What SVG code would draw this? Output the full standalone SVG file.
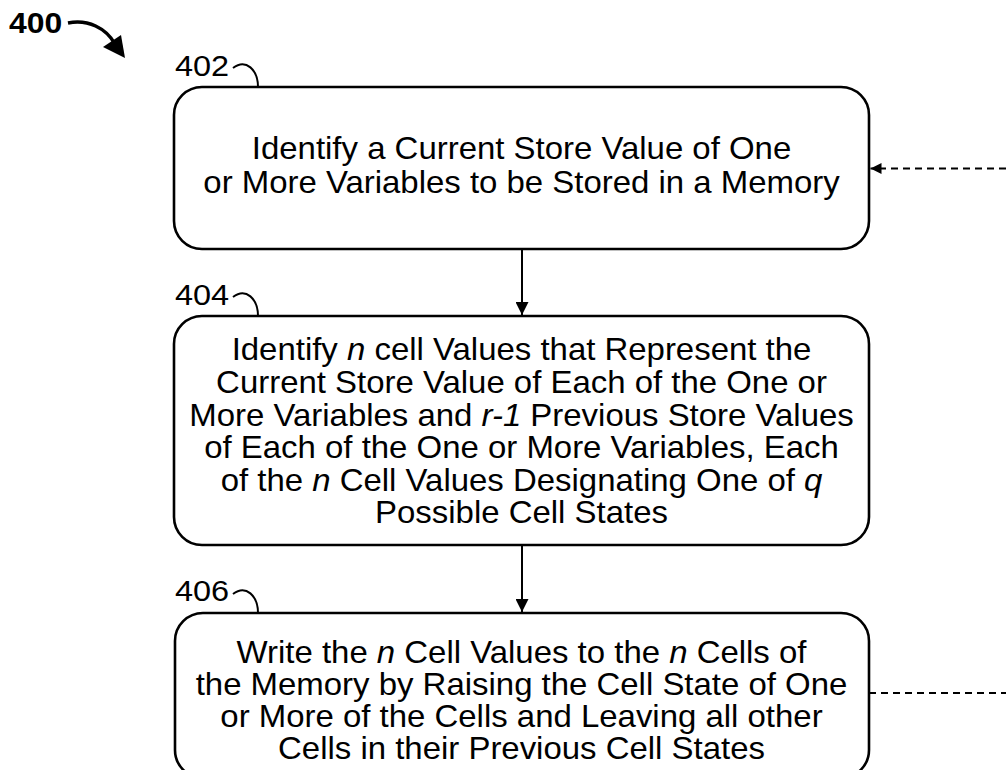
<svg xmlns="http://www.w3.org/2000/svg" width="1006" height="770" viewBox="0 0 1006 770">
<style>
.box{fill:#fff;stroke:#000;stroke-width:2.6}
.t{font-family:"Liberation Sans",Arial,sans-serif;font-size:30.5px;fill:#000;text-anchor:middle}
.lbl{font-family:"Liberation Sans",Arial,sans-serif;font-size:29.5px;fill:#000}
.curl{fill:none;stroke:#000;stroke-width:2}
.conn{fill:none;stroke:#000;stroke-width:2}
.dash{fill:none;stroke:#000;stroke-width:1.8;stroke-dasharray:7 5}
</style>
<defs>
<marker id="ah" viewBox="0 0 10 10" refX="10" refY="5" markerWidth="18" markerHeight="13" markerUnits="userSpaceOnUse" orient="auto">
<path d="M0,0 L10,5 L0,10 z" fill="#000"/>
</marker>
<marker id="ahd" viewBox="0 0 10 10" refX="10" refY="5" markerWidth="17" markerHeight="11" markerUnits="userSpaceOnUse" orient="auto">
<path d="M0,0 L10,5 L0,10 z" fill="#000"/>
</marker>
</defs>
<g id="fig-label">
<text class="lbl" font-weight="bold" transform="translate(9,33) scale(1.08,1)">400</text>
<path d="M68,23 C88,19 106,28 115,44" fill="none" stroke="#000" stroke-width="3.5"/>
<path d="M103,47 L125,58 L121,35 z" fill="#000"/>
</g>
<g id="n402">
<rect class="box" x="174" y="87" width="695" height="162" rx="28"/>
<text class="lbl" transform="translate(175,76) scale(1.1,1)">402</text>
<path class="curl" d="M233,68 C246,58 258,70 258,87"/>
<g transform="translate(521.5,0) scale(1.08,1)">
<text class="t" x="0" y="159">Identify a Current Store Value of One</text>
<text class="t" x="0" y="193">or More Variables to be Stored in a Memory</text>
</g>
</g>
<g id="n404">
<rect class="box" x="174" y="316" width="695" height="229" rx="28"/>
<text class="lbl" transform="translate(175,305) scale(1.1,1)">404</text>
<path class="curl" d="M233,297 C246,287 258,299 258,316"/>
<g transform="translate(521.5,0) scale(1.08,1)">
<text class="t" x="0" y="360">Identify <tspan font-style="italic">n</tspan> cell Values that Represent the</text>
<text class="t" x="0" y="393">Current Store Value of Each of the One or</text>
<text class="t" x="0" y="426">More Variables and <tspan font-style="italic">r-1</tspan> Previous Store Values</text>
<text class="t" x="0" y="458">of Each of the One or More Variables, Each</text>
<text class="t" x="0" y="491">of the <tspan font-style="italic">n</tspan> Cell Values Designating One of <tspan font-style="italic">q</tspan></text>
<text class="t" x="0" y="523">Possible Cell States</text>
</g>
</g>
<g id="n406">
<rect class="box" x="175" y="613" width="694" height="165" rx="28"/>
<text class="lbl" transform="translate(175,601) scale(1.1,1)">406</text>
<path class="curl" d="M233,594 C246,584 258,596 258,613"/>
<g transform="translate(521.5,0) scale(1.08,1)">
<text class="t" x="0" y="663">Write the <tspan font-style="italic">n</tspan> Cell Values to the <tspan font-style="italic">n</tspan> Cells of</text>
<text class="t" x="0" y="695">the Memory by Raising the Cell State of One</text>
<text class="t" x="0" y="727">or More of the Cells and Leaving all other</text>
<text class="t" x="0" y="759">Cells in their Previous Cell States</text>
</g>
</g>
<g id="connectors">
<line class="conn" x1="522" y1="249" x2="522" y2="315" marker-end="url(#ah)"/>
<line class="conn" x1="522" y1="545" x2="522" y2="612" marker-end="url(#ah)"/>
<line class="dash" x1="1006" y1="168.5" x2="870.5" y2="168.5" marker-end="url(#ahd)"/>
<line class="dash" x1="869" y1="693" x2="1006" y2="693"/>
</g>
</svg>
